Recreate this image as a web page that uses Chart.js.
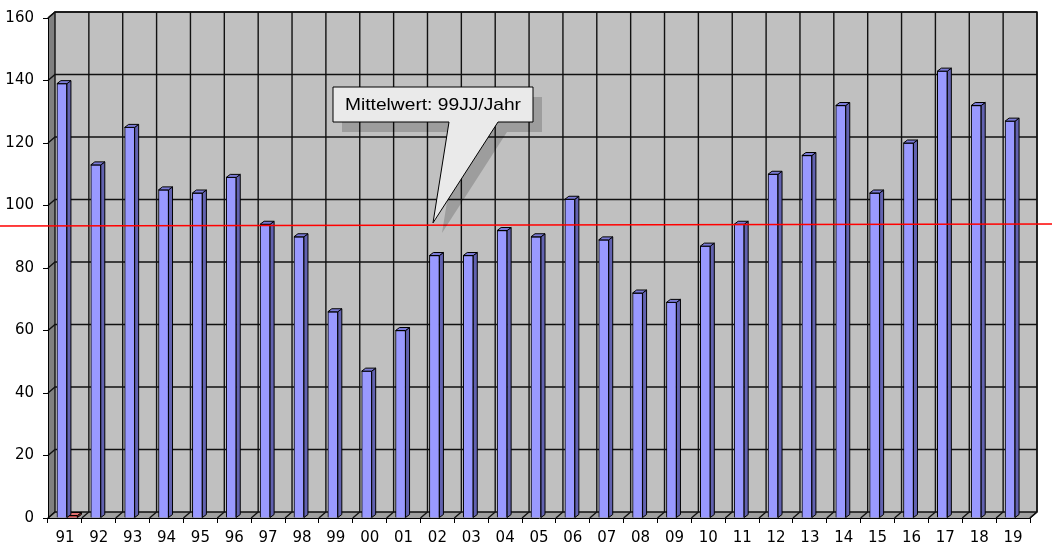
<!DOCTYPE html>
<html>
<head>
<meta charset="utf-8">
<script src="https://cdn.jsdelivr.net/npm/chart.js@4.4.1/dist/chart.umd.min.js"></script>
<style>
  html, body { margin: 0; padding: 0; background: #fff; }
  canvas { display: block; }
</style>
</head>
<body>
<canvas id="chart" width="1052" height="544"></canvas>
<script>
const years = ['91', '92', '93', '94', '95', '96', '97', '98', '99', '00', '01', '02', '03', '04', '05',
  '06', '07', '08', '09', '10', '11', '12', '13', '14', '15', '16', '17', '18', '19'];
const counts = [139, 113, 125, 105, 104, 109, 94, 90, 66, 47, 60, 84, 84, 92, 90,
  102, 89, 72, 69, 87, 94, 110, 116, 132, 104, 120, 143, 132, 127];
const markerValues = [0.8]; // the tiny red bar next to 91
const yTicks = [0, 20, 40, 60, 80, 100, 120, 140, 160];
const MEAN_LINE = 93.8;
const calloutText = 'Mittelwert: 99JJ/Jahr';

const FONT = '"Liberation Sans", Arial, sans-serif';
const TICK_FONT = '"DejaVu Sans", sans-serif';
const DEPTH_X = 7, DEPTH_Y = -6;   // 3d offset of the back wall
const BAR_DX = 4, BAR_DY = -3;     // 3d depth of each bar
const barShift = [-3, 7.5];        // per dataset horizontal shift

// ---------------- 3d walls ----------------
const wallPlugin = {
  id: 'wall',
  beforeDraw(chart) {
    const { ctx, chartArea: a, scales } = chart;
    const dx = DEPTH_X, dy = DEPTH_Y;
    ctx.save();
    ctx.fillStyle = '#fff';
    ctx.fillRect(0, 0, chart.width, chart.height);

    // left side wall
    ctx.fillStyle = '#808080';
    ctx.beginPath();
    ctx.moveTo(a.left, a.top);
    ctx.lineTo(a.left + dx, a.top + dy);
    ctx.lineTo(a.left + dx, a.bottom + dy);
    ctx.lineTo(a.left, a.bottom);
    ctx.closePath();
    ctx.fill();

    // back wall
    ctx.fillStyle = '#C0C0C0';
    ctx.fillRect(a.left + dx, a.top + dy, a.right - a.left, a.bottom - a.top);

    // floor
    ctx.fillStyle = '#A0A0A0';
    ctx.beginPath();
    ctx.moveTo(a.left, a.bottom);
    ctx.lineTo(a.right, a.bottom);
    ctx.lineTo(a.right + dx, a.bottom + dy);
    ctx.lineTo(a.left + dx, a.bottom + dy);
    ctx.closePath();
    ctx.fill();

    ctx.strokeStyle = '#111';
    ctx.lineWidth = 1.4;

    // horizontal grid lines (side wall + back wall)
    yTicks.forEach(v => {
      const py = scales.y.getPixelForValue(v);
      ctx.beginPath();
      ctx.moveTo(a.left, py);
      ctx.lineTo(a.left + dx, py + dy);
      ctx.lineTo(a.right + dx, py + dy);
      ctx.stroke();
    });

    // vertical grid lines (back wall + floor)
    const n = years.length;
    const w = (a.right - a.left) / n;
    for (let i = 0; i <= n; i++) {
      const px = a.left + i * w;
      ctx.beginPath();
      ctx.moveTo(px + dx, a.top + dy);
      ctx.lineTo(px + dx, a.bottom + dy);
      ctx.lineTo(px, a.bottom);
      ctx.stroke();
    }

    // outline of the box
    ctx.beginPath();
    ctx.moveTo(a.left, a.top);
    ctx.lineTo(a.left + dx, a.top + dy);
    ctx.lineTo(a.right + dx, a.top + dy);
    ctx.lineTo(a.right + dx, a.bottom + dy);
    ctx.lineTo(a.right, a.bottom);
    ctx.stroke();
    ctx.restore();
  },

  beforeDatasetDraw(chart, args) {
    chart.ctx.save();
    chart.ctx.translate(barShift[args.index] || 0, 0);
  },

  afterDatasetDraw(chart, args) {
    const ctx = chart.ctx;
    const ds = chart.data.datasets[args.index];
    args.meta.data.forEach(el => {
      if (el.skip || el.y == null || isNaN(el.y)) return;
      const l = el.x - el.width / 2, r = el.x + el.width / 2;
      ctx.lineWidth = 1;
      ctx.strokeStyle = '#000';
      // side face
      ctx.fillStyle = ds.sideColor;
      ctx.beginPath();
      ctx.moveTo(r, el.y);
      ctx.lineTo(r + BAR_DX, el.y + BAR_DY);
      ctx.lineTo(r + BAR_DX, el.base + BAR_DY);
      ctx.lineTo(r, el.base);
      ctx.closePath();
      ctx.fill();
      ctx.stroke();
      // top face
      ctx.fillStyle = ds.topColor;
      ctx.beginPath();
      ctx.moveTo(l, el.y);
      ctx.lineTo(l + BAR_DX, el.y + BAR_DY);
      ctx.lineTo(r + BAR_DX, el.y + BAR_DY);
      ctx.lineTo(r, el.y);
      ctx.closePath();
      ctx.fill();
      ctx.stroke();
    });
    ctx.restore();
  },

  afterDatasetsDraw(chart) {
    const { ctx, scales } = chart;
    const py = scales.y.getPixelForValue(MEAN_LINE);

    // mean line across the whole picture
    ctx.save();
    ctx.strokeStyle = '#FF0000';
    ctx.lineWidth = 1.5;
    ctx.beginPath();
    ctx.moveTo(0, py + 1);
    ctx.lineTo(chart.width, py - 1);
    ctx.stroke();

    // callout
    const box = { l: 333, t: 87, r: 533, b: 122 };
    const tail = { a: 449, b: 498, tipX: 433, tipY: py - 2 };
    const shape = (ox, oy) => {
      ctx.beginPath();
      ctx.moveTo(box.l + ox, box.t + oy);
      ctx.lineTo(box.r + ox, box.t + oy);
      ctx.lineTo(box.r + ox, box.b + oy);
      ctx.lineTo(tail.b + ox, box.b + oy);
      ctx.lineTo(tail.tipX + ox, tail.tipY + oy);
      ctx.lineTo(tail.a + ox, box.b + oy);
      ctx.lineTo(box.l + ox, box.b + oy);
      ctx.closePath();
    };
    ctx.fillStyle = 'rgba(0,0,0,0.18)';
    shape(9, 10);
    ctx.fill();
    ctx.fillStyle = '#EAEAEA';
    ctx.strokeStyle = '#000';
    ctx.lineWidth = 1;
    shape(0, 0);
    ctx.fill();
    ctx.stroke();

    ctx.font = '17px ' + FONT;
    ctx.fillStyle = '#000';
    ctx.textBaseline = 'middle';
    ctx.textAlign = 'center';
    const tw = ctx.measureText(calloutText).width;
    const sx = 176 / tw;
    ctx.translate((box.l + box.r) / 2, (box.t + box.b) / 2 + 1);
    ctx.scale(sx, 1);
    ctx.fillText(calloutText, 0, 0);
    ctx.restore();
  }
};

new Chart(document.getElementById('chart'), {
  type: 'bar',
  data: {
    labels: years,
    datasets: [
      {
        label: 'Anzahl',
        data: counts,
        backgroundColor: '#9999FF',
        borderColor: '#000',
        borderWidth: 1,
        barThickness: 10,
        grouped: false,
        sideColor: '#6262B0',
        topColor: '#7A7AD6'
      },
      {
        label: 'Mittelwert',
        data: markerValues,
        backgroundColor: '#D04040',
        borderColor: '#902020',
        borderWidth: 1,
        barThickness: 10,
        grouped: false,
        sideColor: '#A03030',
        topColor: '#E07070'
      }
    ]
  },
  options: {
    responsive: false,
    animation: false,
    events: [],
    layout: { padding: { top: 18, right: 22, left: 0, bottom: 0 } },
    plugins: { legend: { display: false }, tooltip: { enabled: false } },
    scales: {
      x: {
        type: 'category',
        offset: true,
        afterFit: s => { s.height = 26; },
        grid: { offset: true, drawOnChartArea: false, tickLength: 5, color: '#000', lineWidth: 1 },
        border: { display: true, color: '#000', width: 1 },
        ticks: { color: '#000', font: { family: TICK_FONT, size: 15 }, padding: 6, maxRotation: 0, autoSkip: false }
      },
      y: {
        min: 0,
        max: 160,
        afterFit: s => { s.width = 48; },
        afterBuildTicks: s => { s.ticks = yTicks.map(v => ({ value: v })); },
        grid: { drawOnChartArea: false, tickLength: 5, color: '#000', lineWidth: 1 },
        border: { display: true, color: '#000', width: 1 },
        ticks: { color: '#000', font: { family: TICK_FONT, size: 15 }, padding: 9 }
      }
    }
  },
  plugins: [wallPlugin]
});
</script>
</body>
</html>
